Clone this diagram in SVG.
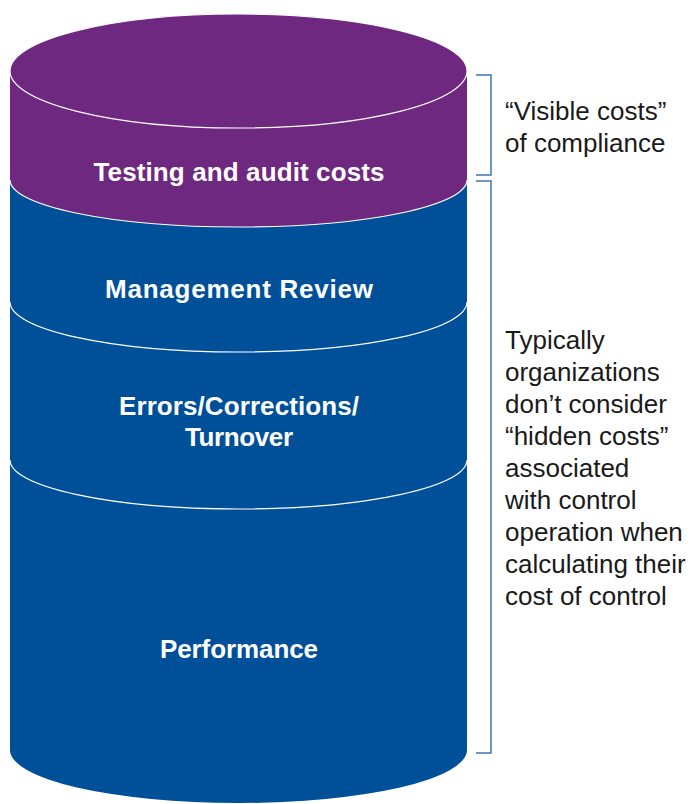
<svg xmlns="http://www.w3.org/2000/svg" width="693" height="804" viewBox="0 0 693 804">
  <style>
    .purple { fill: #6f2880; }
    .blue { fill: #004f99; }
    .sep { fill: none; stroke: #ffffff; stroke-width: 1.2; }
    .label { font-family: "Liberation Sans", Arial, sans-serif; font-weight: bold; font-size: 26px; fill: #ffffff; text-anchor: middle; }
    .note { font-family: "Liberation Sans", Arial, sans-serif; font-size: 26px; fill: #1a1a1a; }
    .bracket { fill: none; stroke: #3f76b4; stroke-width: 1.5; }
  </style>
  <rect width="693" height="804" fill="#ffffff"/>

  <g id="performance">
    <path class="blue" d="M10,300 L10,750 A228.5,53 0 0 0 467,750 L467,300 Z"/>
    <text class="label" x="239" y="658" textLength="158">Performance</text>
  </g>

  <g id="errors">
    <path class="blue" d="M10,300 L10,460 A228.5,49 0 0 0 467,460 L467,300 Z"/>
    <path class="sep" d="M10,460 A228.5,49 0 0 0 467,460"/>
    <text class="label" x="239" y="415" textLength="240">Errors/Corrections/</text>
    <text class="label" x="239" y="446" textLength="108">Turnover</text>
  </g>

  <g id="management-review">
    <path class="blue" d="M10,150 L10,302 A228.5,50 0 0 0 467,302 L467,150 Z"/>
    <path class="sep" d="M10,302 A228.5,50 0 0 0 467,302"/>
    <text class="label" x="239" y="298" textLength="268">Management Review</text>
  </g>

  <g id="testing-audit">
    <path class="purple" d="M10,71 A228.5,57 0 0 1 467,71 L467,180 A228.5,47 0 0 1 10,180 Z"/>
    <path class="sep" d="M10,180 A228.5,47 0 0 0 467,180"/>
    <ellipse class="purple" cx="238.5" cy="71" rx="228.5" ry="57" stroke="#ffffff" stroke-width="1.2"/>
    <text class="label" x="239" y="181" textLength="291">Testing and audit costs</text>
  </g>

  <g id="connectors">
    <path class="bracket" d="M476,75 H491 V175 H476"/>
    <path class="bracket" d="M476,181 H491 V753 H476"/>
  </g>

  <g id="visible-costs-note">
    <text class="note" x="505" y="120">“Visible costs”</text>
    <text class="note" x="505" y="152">of compliance</text>
  </g>

  <g id="hidden-costs-note">
    <text class="note" x="505" y="349">Typically</text>
    <text class="note" x="505" y="381">organizations</text>
    <text class="note" x="505" y="413">don’t consider</text>
    <text class="note" x="505" y="445">“hidden costs”</text>
    <text class="note" x="505" y="477">associated</text>
    <text class="note" x="505" y="509">with control</text>
    <text class="note" x="505" y="541">operation when</text>
    <text class="note" x="505" y="573">calculating their</text>
    <text class="note" x="505" y="605">cost of control</text>
  </g>
</svg>
